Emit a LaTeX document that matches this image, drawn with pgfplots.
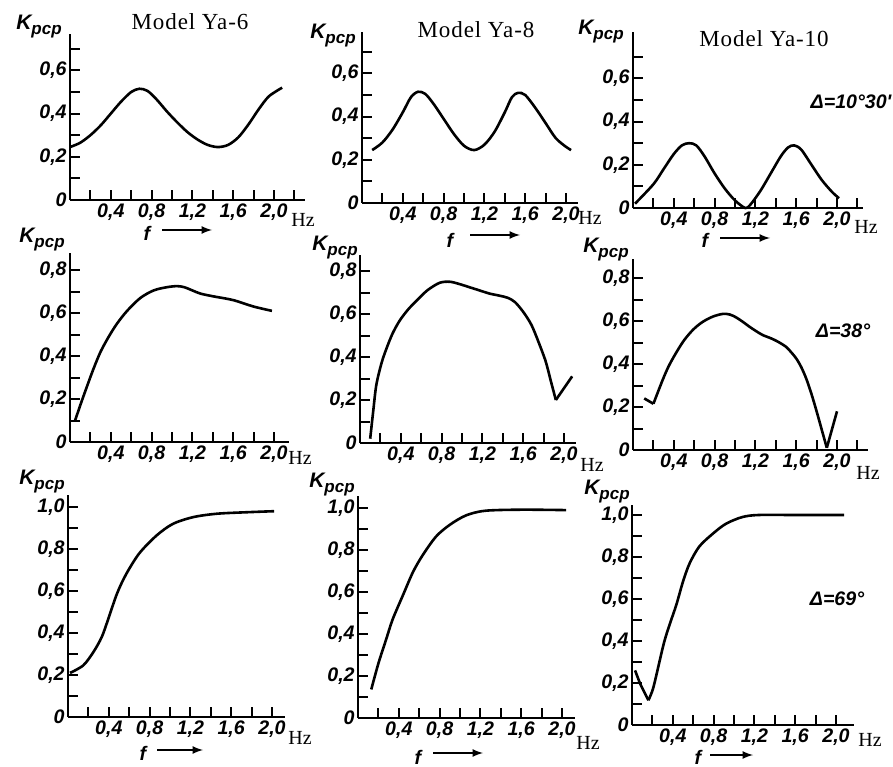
\documentclass[border=0pt]{standalone}
\usepackage{fontspec}
\setmainfont{Liberation Serif}
\newfontfamily\labfont{Liberation Sans}
\usepackage{pgfplots}
\pgfplotsset{compat=1.18}
\newcommand{\tl}{\labfont\bfseries\itshape\fontsize{9.8}{10}\selectfont}
\newcommand{\Kl}{{\labfont\bfseries\itshape\fontsize{10.5}{10}\selectfont K\raisebox{-0.45ex}{\fontsize{8.5}{8}\selectfont pcp}}}
\newcommand{\ttl}[1]{{\fontsize{11.5}{13}\selectfont\addfontfeature{LetterSpace=4}#1}}
\pgfplotsset{
 panel/.style={
  axis x line=bottom, axis y line=left,
  axis line style={-, line width=1.3pt, black},
  x=51pt, xmin=0, ymin=0,
  tick align=inside, major tick length=5pt,
  tick style={line width=1pt, black},
  xticklabel style={font=\tl, inner sep=1.5pt},
  yticklabel style={font=\tl, inner sep=1.5pt},
  clip=false, anchor=south west,
  cycle list={{black, line width=1.3pt}},
  every axis plot/.append style={line width=1.3pt, black, no markers},
 },
 xt10/.style={xtick={0.2,0.4,0.6,0.8,1.0,1.2,1.4,1.6,1.8,2.0},
   xticklabels={,{0,4},,{0,8},,{1,2},,{1,6},,{2,0}}},
 xt11/.style={xtick={0.2,0.4,0.6,0.8,1.0,1.2,1.4,1.6,1.8,2.0,2.2},
   xticklabels={,{0,4},,{0,8},,{1,2},,{1,6},,{2,0},}},
 yr1/.style={y=108pt, ytick={0,0.1,0.2,0.3,0.4,0.5,0.6,0.7},
   yticklabels={0,,{0,2},,{0,4},,{0,6},}},
 yr2/.style={y=107.5pt, ytick={0,0.1,0.2,0.3,0.4,0.5,0.6,0.7,0.8},
   yticklabels={0,,{0,2},,{0,4},,{0,6},,{0,8}}},
 yr3/.style={y=105pt, ytick={0,0.1,0.2,0.3,0.4,0.5,0.6,0.7,0.8,0.9,1.0},
   yticklabels={0,,{0,2},,{0,4},,{0,6},,{0,8},,{1,0}}},
}
\begin{document}
\begin{tikzpicture}
\path[use as bounding box] (0,0) rectangle (446.5pt,383pt);
% ---------- Row 1 : Delta = 10 deg 30'
\begin{axis}[panel, xt11, yr1, at={(35pt,283pt)}, xmax=2.3, ymax=0.77]
\addplot[black, smooth] coordinates {(0,0.245)(0.1,0.265)(0.2,0.3)(0.3,0.345)(0.4,0.4)(0.5,0.455)(0.6,0.5)(0.68,0.515)(0.76,0.505)(0.85,0.465)(0.95,0.41)(1.05,0.36)(1.15,0.315)(1.25,0.28)(1.35,0.255)(1.45,0.245)(1.55,0.255)(1.65,0.29)(1.75,0.35)(1.85,0.42)(1.95,0.48)(2.08,0.52)};
\end{axis}
\begin{axis}[panel, xt10, yr1, at={(181pt,281.5pt)}, xmax=2.12, ymax=0.79]
\addplot[black, smooth] coordinates {(0.1,0.245)(0.2,0.28)(0.3,0.34)(0.4,0.42)(0.48,0.49)(0.55,0.515)(0.62,0.505)(0.7,0.46)(0.8,0.39)(0.9,0.32)(1.0,0.265)(1.1,0.245)(1.2,0.27)(1.3,0.33)(1.4,0.42)(1.47,0.49)(1.53,0.51)(1.6,0.5)(1.7,0.44)(1.8,0.37)(1.9,0.3)(2.0,0.26)(2.05,0.245)};
\end{axis}
\begin{axis}[panel, xt11, yr1, at={(316.5pt,279pt)}, xmax=2.25, ymax=0.815]
\addplot[black, smooth] coordinates {(0.02,0.02)(0.2,0.11)(0.3,0.18)(0.4,0.25)(0.48,0.29)(0.55,0.3)(0.62,0.29)(0.7,0.24)(0.8,0.16)(0.9,0.09)(1.0,0.035)(1.1,0.0)(1.15,0.015)(1.25,0.08)(1.35,0.16)(1.45,0.24)(1.52,0.28)(1.58,0.29)(1.65,0.27)(1.75,0.2)(1.85,0.13)(1.95,0.075)(2.02,0.045)};
\end{axis}
% ---------- Row 2 : Delta = 38 deg
\begin{axis}[panel, xt10, yr2, at={(35pt,162pt)}, xmax=2.15, ymax=0.877]
\addplot[black, smooth] coordinates {(0.05,0.1)(0.1,0.17)(0.16,0.25)(0.23,0.34)(0.3,0.42)(0.38,0.49)(0.46,0.55)(0.56,0.61)(0.69,0.67)(0.82,0.705)(0.95,0.72)(1.05,0.725)(1.12,0.72)(1.2,0.705)(1.28,0.69)(1.41,0.677)(1.6,0.66)(1.8,0.63)(1.98,0.61)};
\end{axis}
\begin{axis}[panel, xt10, yr2, at={(180pt,161.5pt)}, xmax=2.12, ymax=0.875]
\addplot[black, smooth] coordinates {(0.1,0.02)(0.13,0.15)(0.16,0.27)(0.21,0.37)(0.26,0.44)(0.32,0.51)(0.39,0.57)(0.47,0.62)(0.55,0.66)(0.66,0.71)(0.78,0.745)(0.88,0.75)(0.97,0.74)(1.07,0.725)(1.17,0.71)(1.27,0.695)(1.37,0.685)(1.45,0.675)(1.52,0.655)(1.6,0.61)(1.68,0.55)(1.75,0.47)(1.82,0.38)(1.87,0.29)(1.92,0.2)};
\addplot[black] coordinates {(1.92,0.2)(2.08,0.31)};
\end{axis}
\begin{axis}[panel, xt11, yr2, at={(316.5pt,158pt)}, xmax=2.3, ymax=0.89]
\addplot[black] coordinates {(0.11,0.24)(0.2,0.215)};
\addplot[black, smooth] coordinates {(0.2,0.215)(0.29,0.325)(0.35,0.39)(0.42,0.45)(0.5,0.51)(0.59,0.56)(0.68,0.595)(0.78,0.62)(0.88,0.633)(0.95,0.63)(1.01,0.617)(1.08,0.595)(1.14,0.574)(1.2,0.555)(1.27,0.535)(1.35,0.52)(1.42,0.504)(1.5,0.48)(1.55,0.455)(1.6,0.426)(1.65,0.385)(1.7,0.33)(1.75,0.26)(1.8,0.18)(1.85,0.095)(1.9,0.01)};
\addplot[black] coordinates {(1.9,0.01)(2.0,0.18)};
\end{axis}
% ---------- Row 3 : Delta = 69 deg
\begin{axis}[panel, xt10, yr3, at={(34pt,24.5pt)}, xmax=2.13, ymax=1.055]
\addplot[black, smooth] coordinates {(0.02,0.21)(0.15,0.246)(0.25,0.31)(0.33,0.38)(0.39,0.46)(0.48,0.587)(0.57,0.68)(0.7,0.78)(0.87,0.865)(1.03,0.92)(1.23,0.952)(1.46,0.968)(1.75,0.975)(2.02,0.98)};
\end{axis}
\begin{axis}[panel, xt10, yr3, at={(179pt,24pt)}, xmax=2.13, ymax=1.056]
\addplot[black, smooth] coordinates {(0.13,0.136)(0.2,0.26)(0.277,0.376)(0.34,0.47)(0.44,0.584)(0.54,0.696)(0.635,0.776)(0.765,0.864)(0.9,0.92)(1.06,0.965)(1.25,0.987)(1.61,0.992)(2.04,0.99)};
\end{axis}
\begin{axis}[panel, xt10, yr3, at={(316pt,20.5pt)}, xmax=2.18, ymax=1.05]
\addplot[black] coordinates {(0.03,0.26)(0.08,0.196)(0.16,0.118)};
\addplot[black, smooth] coordinates {(0.16,0.118)(0.21,0.18)(0.31,0.385)(0.37,0.48)(0.435,0.573)(0.5,0.683)(0.565,0.77)(0.66,0.85)(0.79,0.91)(0.92,0.958)(1.08,0.99)(1.24,1.0)(1.6,1.0)(2.08,1.0)};
\end{axis}
% ---------- texts
\node at (95pt,372pt) {\ttl{Model Ya-6}};
\node at (238pt,368pt) {\ttl{Model Ya-8}};
\node at (382pt,363.5pt) {\ttl{Model Ya-10}};
\node[font=\tl] at (425.5pt,332pt) {Δ=10°30'};
\node[font=\tl] at (421.5pt,217.5pt) {Δ=38°};
\node[font=\tl] at (418.5pt,83.5pt) {Δ=69°};
\foreach \x/\y in {19.5/369.5, 166.5/365, 300.5/367, 21/263, 167.5/259, 303/258, 21/142, 166/140.5, 303.5/137}
  \node at (\x pt,\y pt) {\Kl};
\foreach \x/\y in {151.5/273, 295/274, 433/269.5, 150/154, 296/150.5, 434/146.5, 150/14, 294/11.5, 435/13}
  \node[font=\fontsize{10}{11}\selectfont] at (\x pt,\y pt) {Hz};
\foreach \fx/\fy/\ax/\bx/\ay in {73.5/266.5/81/106/268, 225/263/235/260/265.5, 352.5/263/360/385/264, 71.5/6.5/78.5/101.5/8, 209/4.5/216.5/241.5/6.5, 349/4.5/355/376.5/5.5}{
  \node[font=\tl] at (\fx pt,\fy pt) {f};
  \draw[-latex, line width=0.8pt] (\ax pt,\ay pt) -- (\bx pt,\ay pt);
}
\end{tikzpicture}
\end{document}
